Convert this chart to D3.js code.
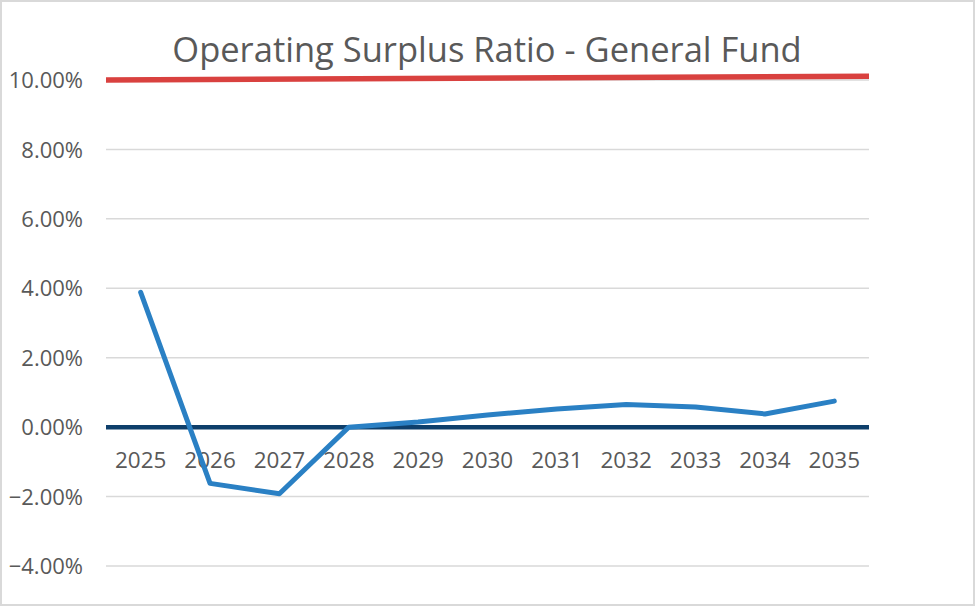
<!DOCTYPE html>
<html><head><meta charset="utf-8">
<script src="https://cdn.jsdelivr.net/npm/d3@7"></script>
<style>body{margin:0;background:#fff;}svg{display:block;}</style>
</head><body>
<svg id="c" width="975" height="606"></svg>
<script>
const years = ["2025","2026","2027","2028","2029","2030","2031","2032","2033","2034","2035"];
const ratio = [3.88, -1.62, -1.92, 0.0, 0.15, 0.35, 0.52, 0.65, 0.58, 0.38, 0.75];
const target = [10.0, 10.11];
const yTicks = [-4, -2, 0, 2, 4, 6, 8, 10];

const svg = d3.select("#c");
const W = 975, H = 606;
const L = 106, R = 869, T = 80, B = 566;

svg.append("rect").attr("x",1).attr("y",1).attr("width",W-2).attr("height",H-2)
  .attr("fill","#fff").attr("stroke","#d9d9d9").attr("stroke-width",2);

const x = d3.scaleBand().domain(years).range([L, R]);
const y = d3.scaleLinear().domain([-4, 10]).range([B, T]);
const xEdge = d3.scaleLinear().domain([0, 1]).range([L, R]);

// gridlines
svg.append("g").selectAll("line").data(yTicks).join("line")
  .attr("x1", L).attr("x2", R).attr("y1", d => y(d)).attr("y2", d => y(d))
  .attr("stroke", "#d9d9d9").attr("stroke-width", 1.5);

// y axis labels
const yAxis = d3.axisLeft(y).tickValues(yTicks).tickSize(0).tickPadding(0)
  .tickFormat(d => d3.format(".2f")(d) + "%");
const ya = svg.append("g").attr("transform", `translate(83,0)`).call(yAxis);
ya.select(".domain").remove();
ya.selectAll("text").attr("font-family","'Open Sans', sans-serif").attr("font-size",22)
  .attr("fill","#595959").attr("dy","0.35em");

// x axis labels
const xAxis = d3.axisBottom(x).tickSize(0).tickPadding(0);
const xa = svg.append("g").attr("transform", `translate(0,${y(0)+33})`).call(xAxis);
xa.select(".domain").remove();
xa.selectAll("text").attr("font-family","'Open Sans', sans-serif").attr("font-size",22.5)
  .attr("fill","#595959").attr("dy","0.35em");

// zero axis line
svg.append("line").attr("x1", L).attr("x2", R).attr("y1", y(0)).attr("y2", y(0))
  .attr("stroke", "#0e3f6b").attr("stroke-width", 4.5);

// target line
svg.append("path").datum(target)
  .attr("d", d3.line().x((d,i) => xEdge(i)).y(d => y(d)))
  .attr("fill","none").attr("stroke","#d9413f").attr("stroke-width",5.5);

// ratio series
svg.append("path").datum(ratio)
  .attr("d", d3.line().x((d,i) => x(years[i]) + x.bandwidth()/2).y(d => y(d)))
  .attr("fill","none").attr("stroke","#2a80c4").attr("stroke-width",5)
  .attr("stroke-linejoin","round").attr("stroke-linecap","round");

// title
svg.append("text").attr("x", 487).attr("y", 62).attr("text-anchor","middle")
  .attr("font-family","'Open Sans', sans-serif").attr("font-size",34.5)
  .attr("fill","#595959").text("Operating Surplus Ratio - General Fund");
</script>
</body></html>
